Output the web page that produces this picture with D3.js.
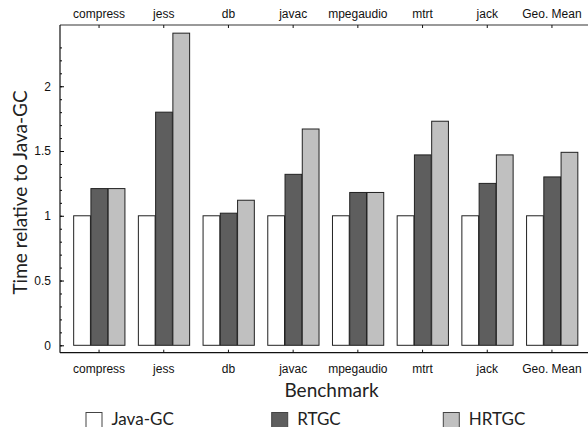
<!DOCTYPE html>
<html>
<head>
<meta charset="utf-8">
<script src="https://cdn.jsdelivr.net/npm/d3@7"></script>
<style>
  body { margin: 0; background: #fff; }
  svg { display: block; }
</style>
</head>
<body>
<div id="chart"></div>
<script>
// Data
const benchmarks = ["compress", "jess", "db", "javac", "mpegaudio", "mtrt", "jack", "Geo. Mean"];
const series = ["Java-GC", "RTGC", "HRTGC"];
const javaGC = [1, 1, 1, 1, 1, 1, 1, 1];
const rtgc = [1.21, 1.80, 1.02, 1.32, 1.18, 1.47, 1.25, 1.30];
const hrtgc = [1.21, 2.41, 1.12, 1.67, 1.18, 1.73, 1.47, 1.49];
const yTicks = [0, 0.5, 1, 1.5, 2];
const colors = ["#ffffff", "#5e5e5e", "#c0c0c0"];

const width = 588;
const height = 427;
const margin = { top: 25, right: 0, bottom: 74, left: 60 };

const svg = d3.select("#chart")
    .append("svg")
    .attr("width", width)
    .attr("height", height);

const rows = benchmarks.map((b, i) => ({
    name: b,
    values: [javaGC[i], rtgc[i], hrtgc[i]]
}));

// Scales
const x = d3.scaleBand()
    .domain(benchmarks)
    .range([66.7, 584.3])
    .paddingInner(0.2)
    .paddingOuter(0.1);

const xSub = d3.scaleBand()
    .domain(series)
    .range([0, x.bandwidth()]);

const y = d3.scaleLinear()
    .domain([0, 2.473])
    .range([345.3, 25]);

const frameBottom = 352.7;

// Bars
const groups = svg.selectAll("g.group")
    .data(rows)
    .enter()
    .append("g")
    .attr("class", "group")
    .attr("transform", (d) => `translate(${x(d.name)},0)`);

groups.selectAll("rect")
    .data((d) => d.values.map((v, i) => ({ key: series[i], value: v, i: i })))
    .enter()
    .append("rect")
    .attr("x", (d) => xSub(d.key) + 0.5)
    .attr("y", (d) => y(d.value))
    .attr("width", xSub.bandwidth() - 0.5)
    .attr("height", (d) => y(0) - y(d.value))
    .attr("fill", (d) => colors[d.i])
    .attr("stroke", "#222")
    .attr("stroke-width", 1);

// Frame: top and bottom axes with category labels
const xTop = d3.axisTop(x).tickSize(-3).tickPadding(7);
const xBottom = d3.axisBottom(x).tickSize(-3).tickPadding(12);

const gTop = svg.append("g")
    .attr("transform", `translate(0,${margin.top})`)
    .call(xTop);
gTop.select(".domain").attr("d", `M${margin.left},0H${width}`).attr("stroke", "#777").attr("stroke-width", 1.5);

const gBottom = svg.append("g")
    .attr("transform", `translate(0,${frameBottom})`)
    .call(xBottom);
gBottom.select(".domain").attr("d", `M${margin.left},0H${width}`).attr("stroke", "#111").attr("stroke-width", 1.2);

[gTop, gBottom].forEach((g) => {
    g.selectAll(".tick line").attr("stroke", "#111");
    g.selectAll(".tick text")
        .attr("font-family", "'Liberation Sans', Arial, sans-serif")
        .attr("font-size", 12)
        .attr("fill", "#111");
});

// Left axis: minor ticks every 0.1, labels every 0.5
const yMinor = d3.axisRight(y)
    .tickValues(d3.range(0, 24).map((k) => k / 10))
    .tickSize(2)
    .tickFormat("");
const gMinor = svg.append("g")
    .attr("transform", `translate(${margin.left},0)`)
    .call(yMinor);
gMinor.select(".domain").remove();

const yAxis = d3.axisRight(y)
    .tickValues(yTicks)
    .tickSize(4)
    .tickFormat((d) => d);
const gY = svg.append("g")
    .attr("transform", `translate(${margin.left},0)`)
    .call(yAxis);
gY.select(".domain").remove();
gY.selectAll(".tick text")
    .attr("x", -9)
    .attr("text-anchor", "end")
    .attr("font-family", "'Liberation Sans', Arial, sans-serif")
    .attr("font-size", 12)
    .attr("fill", "#111");

svg.append("line")
    .attr("x1", margin.left)
    .attr("x2", margin.left)
    .attr("y1", margin.top)
    .attr("y2", frameBottom)
    .attr("stroke", "#111")
    .attr("stroke-width", 1.2);

// Axis titles
svg.append("text")
    .attr("transform", "rotate(-90)")
    .attr("x", -192.5)
    .attr("y", 27)
    .attr("text-anchor", "middle")
    .attr("font-family", "Lato, 'Open Sans', sans-serif")
    .attr("font-size", 19)
    .attr("fill", "#222")
    .text("Time relative to Java-GC");

svg.append("text")
    .attr("x", 331.5)
    .attr("y", 396.5)
    .attr("text-anchor", "middle")
    .attr("font-family", "Lato, 'Open Sans', sans-serif")
    .attr("font-size", 19)
    .attr("fill", "#222")
    .text("Benchmark");

// Legend
const legendX = [86, 271.7, 443.3];
const legend = svg.selectAll("g.legend")
    .data(series)
    .enter()
    .append("g")
    .attr("class", "legend")
    .attr("transform", (d, i) => `translate(${legendX[i]},412.5)`);

legend.append("rect")
    .attr("width", 16)
    .attr("height", 16)
    .attr("fill", (d, i) => colors[i])
    .attr("stroke", "#444");

legend.append("text")
    .attr("x", 25.5)
    .attr("y", 12)
    .attr("font-family", "Lato, 'Open Sans', sans-serif")
    .attr("font-size", 17)
    .attr("fill", "#222")
    .text((d) => d);
</script>
</body>
</html>
